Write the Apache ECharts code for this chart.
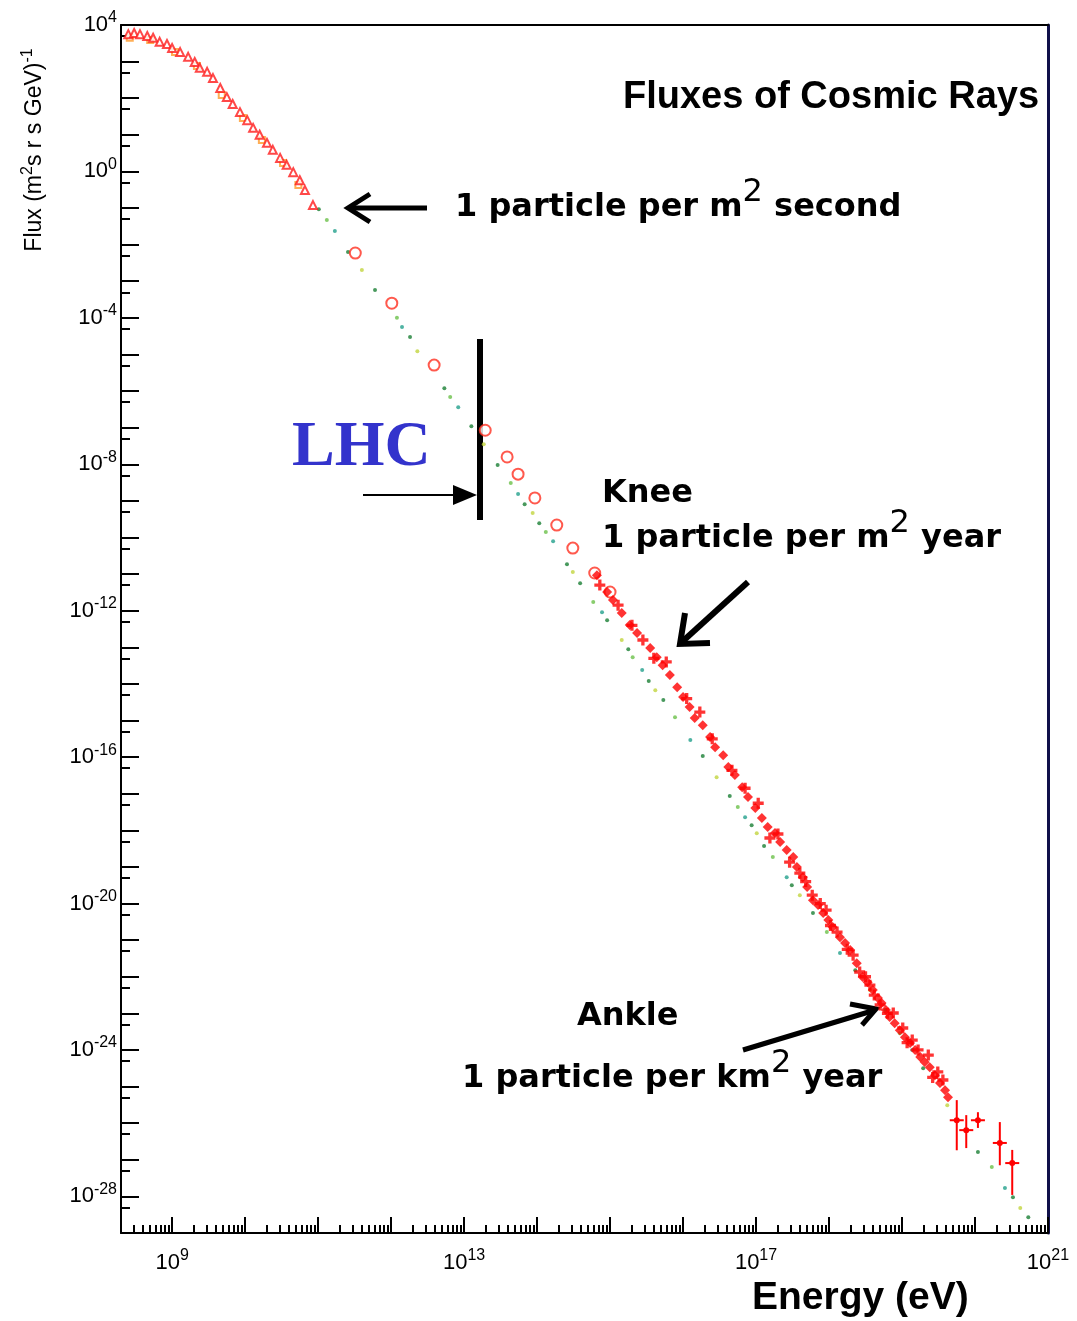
<!DOCTYPE html>
<html>
<head>
<meta charset="utf-8">
<title>Fluxes of Cosmic Rays</title>
<script src="https://cdn.jsdelivr.net/npm/echarts@6/dist/echarts.min.js"></script>
<style>
html, body { margin: 0; padding: 0; background: #fff; }
#main { width: 1077px; height: 1321px; }
</style>
</head>
<body>
<div id="main"></div>
<script type="text/javascript">
// axis ranges and labelled decades (log10 units)
var xRange = [8.3, 21];
var yRange = [-29, 4];
var xLabelExp = [9, 13, 17, 21];
var yLabelExp = [4, 0, -4, -8, -12, -16, -20, -24, -28];

// all points: [log10(E / eV), log10(flux)]
var lowTriangles = [[8.40,3.75],[8.48,3.78],[8.56,3.75],[8.66,3.70],[8.74,3.65],[8.83,3.54],[8.93,3.48],[9.00,3.37],
    [9.11,3.26],[9.22,3.13],[9.31,2.99],[9.38,2.83],[9.48,2.72],[9.56,2.55],[9.66,2.28],[9.75,2.03],[9.83,1.84],
    [9.93,1.62],[10.03,1.40],[10.11,1.19],[10.20,1.00],[10.30,0.78],[10.38,0.59],[10.48,0.37],[10.57,0.18],
    [10.66,-0.02],[10.75,-0.24],[10.82,-0.51],[10.93,-0.92]];
var lowSquares = [[8.42,3.65],[8.70,3.59],[9.04,3.26],[9.34,2.88],[9.68,2.09],[9.97,1.46],[10.23,0.86],[10.52,0.23],[10.73,-0.37]];
var directCircles = [[11.51,-2.23],[12.01,-3.60],[12.59,-5.29],[13.29,-7.07],[13.59,-7.80],[13.74,-8.27],[13.97,-8.92],
    [14.27,-9.66],[14.49,-10.29],[14.79,-10.97],[15.00,-11.49]];
var airShower = [[14.82,-11.03],[14.96,-11.49],[15.04,-11.71],[15.16,-12.06],[15.27,-12.39],[15.37,-12.61],[15.55,-13.02],
    [15.64,-13.27],[15.72,-13.49],[15.82,-13.76],[15.92,-14.09],[16.00,-14.36],[16.09,-14.63],[16.16,-14.93],[16.27,-15.13],
    [16.37,-15.45],[16.44,-15.73],[16.55,-15.95],[16.62,-16.27],[16.71,-16.49],[16.81,-16.82],[16.89,-17.09],[16.99,-17.39],
    [17.08,-17.66],[17.16,-17.91],[17.26,-18.07],[17.33,-18.32],[17.42,-18.54],[17.51,-18.73],[17.56,-19.00],[17.64,-19.28],
    [17.70,-19.55],[17.78,-19.91],[17.85,-20.04],[17.92,-20.26],[17.99,-20.45],[18.05,-20.64],[18.15,-20.92],[18.22,-21.08],
    [18.29,-21.27],[18.38,-21.63],[18.46,-22.01],[18.53,-22.15],[18.60,-22.36],[18.67,-22.58],[18.72,-22.72],[18.78,-22.91],
    [18.83,-23.10],[18.90,-23.27],[18.97,-23.46],[19.04,-23.65],[19.11,-23.81],[19.18,-24.00],[19.25,-24.19],[19.31,-24.33],
    [19.38,-24.47],[19.45,-24.69],[19.52,-24.90],[19.59,-25.10],[19.63,-25.29]];
var airScatter = [[14.86,-11.30],[15.11,-11.85],[15.45,-12.80],[15.77,-13.40],[16.23,-14.77],[16.67,-16.36],[17.03,-17.26],
    [17.19,-18.21],[17.46,-18.87],[17.60,-19.17],[17.77,-19.77],[17.96,-20.18],[18.11,-20.78],[18.33,-21.41],[18.42,-21.87],
    [18.56,-22.23],[18.70,-22.77],[18.88,-22.99],[19.01,-23.40],[19.14,-23.73],[19.36,-24.14],[19.49,-24.60],[19.56,-24.82],
    [15.30,-12.40],[15.60,-13.30],[16.05,-14.40],[16.40,-15.50],[16.85,-16.85],[17.30,-18.10],[17.68,-19.40],[17.88,-20.00],
    [18.02,-20.60],[18.25,-21.25],[18.50,-22.00],[18.62,-22.50],[18.80,-23.00],[19.07,-23.80],[19.22,-24.00],[19.42,-24.75]];
// [logE, logF, logF high, logF low]
var errorBars = [[19.75,-25.92,-25.37,-26.74],[19.88,-26.19,-25.78,-26.68],[20.04,-25.92,-25.70,-26.13],
    [20.34,-26.54,-25.97,-27.15],[20.51,-27.09,-26.73,-27.96]];
var fitLine = [[11.01,-1.03],[11.12,-1.33],[11.23,-1.63],[11.41,-2.20],[11.60,-2.69],[11.78,-3.24],[12.08,-4.00],[12.15,-4.25],
    [12.26,-4.52],[12.36,-4.91],[12.73,-5.92],[12.81,-6.16],[12.92,-6.44],[13.10,-6.96],[13.27,-7.45],[13.46,-8.02],
    [13.64,-8.51],[13.74,-8.81],[13.83,-9.09],[13.94,-9.33],[14.03,-9.61],[14.12,-9.85],[14.22,-10.10],[14.41,-10.73],
    [14.49,-10.94],[14.59,-11.25],[14.77,-11.76],[14.89,-12.04],[14.96,-12.26],[15.16,-12.80],[15.25,-13.05],[15.31,-13.27],
    [15.44,-13.62],[15.53,-13.92],[15.62,-14.17],[15.73,-14.44],[15.89,-14.91],[16.10,-15.53],[16.27,-15.97],[16.46,-16.55],
    [16.64,-17.06],[16.75,-17.36],[16.85,-17.64],[16.94,-17.86],[17.01,-18.08],[17.11,-18.43],[17.23,-18.73],[17.42,-19.28],
    [17.49,-19.50],[17.60,-19.77],[17.78,-20.26],[17.97,-20.78],[18.15,-21.35],[18.36,-21.82],[18.56,-22.36],[18.77,-22.91],
    [18.97,-23.54],[19.14,-24.00],[19.29,-24.50],[19.62,-25.51],[20.04,-26.79],[20.23,-27.20],[20.41,-27.77],[20.52,-28.02],
    [20.62,-28.32],[20.73,-28.57]];

var greens = ['#1a7f34', '#6cc04a', '#23a08c', '#1a7f34', '#c2d43e'];

function p10(v) { return Math.pow(10, v); }
function toLin(arr) {
    return arr.map(function (p) { return p.map(p10); });
}

// ticks: decades + minor positions
var xMajor = [], xMinor = [], yMajor = [], yMinor = [];
for (var d = 8; d <= 21; d++) {
    if (d >= xRange[0]) xMajor.push(p10(d));
    for (var m = 2; m <= 9; m++) {
        var lv = d + Math.log(m) / Math.LN10;
        if (lv > xRange[0] && lv < xRange[1]) xMinor.push(m * p10(d));
    }
}
for (var e = yRange[0]; e <= yRange[1]; e++) {
    yMajor.push(p10(e));
    if (e < yRange[1]) yMinor.push(5 * p10(e));
}

function expLabel(v) {
    var n = Math.round(Math.log(v) / Math.LN10);
    return '{b|10}{e|' + n + '}';
}
var labelRich = {
    b: { fontSize: 22, lineHeight: 30, verticalAlign: 'middle', fontFamily: 'Liberation Sans', color: '#000' },
    e: { fontSize: 16, lineHeight: 16, verticalAlign: 'top', fontFamily: 'Liberation Sans', color: '#000' }
};

// tiny pad so the end decades survive the float round trip of the log scale
function xAxisBase(extra) {
    var a = {
        type: 'log', gridIndex: 0, min: p10(xRange[0]), max: p10(xRange[1]) * 1.00001,
        splitLine: { show: false }, minorTick: { show: false }
    };
    for (var k in extra) a[k] = extra[k];
    return a;
}
function yAxisBase(extra) {
    var a = {
        type: 'log', gridIndex: 0, min: p10(yRange[0]) * 0.99999, max: p10(yRange[1]) * 1.00001,
        splitLine: { show: false }, minorTick: { show: false }
    };
    for (var k in extra) a[k] = extra[k];
    return a;
}

var annFont = 'bold 32px "DejaVu Sans"';
var supRich = { s: { fontSize: 32, fontWeight: 'normal', fontFamily: 'DejaVu Sans', lineHeight: 12, verticalAlign: 'top', fill: '#000' } };

function annText(x, y, text) {
    return {
        type: 'text', x: x, y: y,
        style: { text: text, font: annFont, fill: '#000', align: 'left', verticalAlign: 'middle', lineHeight: 62, rich: supRich }
    };
}
function seg(x1, y1, x2, y2, w) {
    return { type: 'line', shape: { x1: x1, y1: y1, x2: x2, y2: y2 }, style: { stroke: '#000', lineWidth: w, lineCap: 'butt' } };
}
function head(pts, w) {
    return { type: 'polyline', shape: { points: pts }, style: { stroke: '#000', lineWidth: w, fill: null, lineJoin: 'miter' } };
}

var myChart = echarts.init(document.getElementById('main'));

var option = {
    backgroundColor: '#fff',
    animation: false,
    grid: { left: 121, right: 29, top: 25, bottom: 88, containLabel: false, outerBoundsMode: 'none' },
    xAxis: [
        xAxisBase({
            position: 'bottom',
            axisLine: { onZero: false, lineStyle: { color: '#000', width: 2 } },
            axisTick: { inside: true, length: 16, customValues: xMajor, lineStyle: { color: '#000', width: 2 } },
            axisLabel: { customValues: xLabelExp.map(p10), margin: 15, formatter: expLabel, rich: labelRich }
        }),
        xAxisBase({
            position: 'bottom',
            axisLine: { show: false, onZero: false },
            axisTick: { inside: true, length: 8, customValues: xMinor, lineStyle: { color: '#000', width: 2 } },
            axisLabel: { show: false }
        }),
        xAxisBase({
            position: 'top',
            axisLine: { onZero: false, lineStyle: { color: '#000', width: 2 } },
            axisTick: { show: false },
            axisLabel: { show: false }
        })
    ],
    yAxis: [
        yAxisBase({
            position: 'left',
            axisLine: { onZero: false, lineStyle: { color: '#000', width: 2 } },
            axisTick: { inside: true, length: 18, customValues: yMajor, lineStyle: { color: '#000', width: 2 } },
            axisLabel: { customValues: yLabelExp.map(p10), margin: 4, formatter: expLabel, rich: labelRich }
        }),
        yAxisBase({
            position: 'left',
            axisLine: { show: false, onZero: false },
            axisTick: { inside: true, length: 9, customValues: yMinor, lineStyle: { color: '#000', width: 2 } },
            axisLabel: { show: false }
        }),
        yAxisBase({
            position: 'right',
            axisLine: { onZero: false, lineStyle: { color: '#10104a', width: 3 } },
            axisTick: { show: false },
            axisLabel: { show: false }
        })
    ],
    series: [
        {
            name: 'fit', type: 'scatter', silent: true, symbol: 'circle', symbolSize: 4,
            itemStyle: { color: function (p) { return greens[p.dataIndex % greens.length]; } },
            data: toLin(fitLine)
        },
        {
            name: 'low squares', type: 'scatter', silent: true, symbol: 'emptyRect', symbolSize: 6,
            itemStyle: { color: '#ff9a2a', borderWidth: 2 },
            data: toLin(lowSquares)
        },
        {
            name: 'low triangles', type: 'scatter', silent: true, symbol: 'emptyTriangle', symbolSize: 8,
            itemStyle: { color: '#ff1a1a', borderWidth: 2 },
            data: toLin(lowTriangles)
        },
        {
            name: 'direct', type: 'scatter', silent: true, symbol: 'emptyCircle', symbolSize: 11,
            itemStyle: { color: '#ff3020', borderWidth: 2 },
            data: toLin(directCircles)
        },
        {
            name: 'air shower scatter', type: 'scatter', silent: true,
            symbol: 'path://M3.5,0H6.5V3.5H10V6.5H6.5V10H3.5V6.5H0V3.5H3.5Z', symbolSize: 11,
            itemStyle: { color: '#ff0000' },
            data: toLin(airScatter)
        },
        {
            name: 'air shower', type: 'scatter', silent: true, symbol: 'diamond', symbolSize: 10,
            itemStyle: { color: '#ff0000' },
            data: toLin(airShower)
        },
        {
            name: 'error bars', type: 'custom', silent: true,
            renderItem: function (params, api) {
                var c = api.coord([api.value(0), api.value(1)]);
                var hi = api.coord([api.value(0), api.value(2)]);
                var lo = api.coord([api.value(0), api.value(3)]);
                return {
                    type: 'group',
                    children: [
                        { type: 'line', shape: { x1: hi[0], y1: hi[1], x2: lo[0], y2: lo[1] }, style: { stroke: '#ff0000', lineWidth: 2 } },
                        { type: 'line', shape: { x1: c[0] - 7, y1: c[1], x2: c[0] + 7, y2: c[1] }, style: { stroke: '#ff0000', lineWidth: 2 } },
                        { type: 'circle', shape: { cx: c[0], cy: c[1], r: 3 }, style: { fill: '#ff0000' } }
                    ]
                };
            },
            data: toLin(errorBars)
        }
    ],
    graphic: [
        {
            type: 'text', x: 623, y: 98,
            style: { text: 'Fluxes of Cosmic Rays', font: 'bold 38px "Liberation Sans"', fill: '#000', align: 'left', verticalAlign: 'middle' }
        },
        {
            type: 'text', x: 35, y: 150, rotation: Math.PI / 2,
            style: {
                text: 'Flux (m{s|2}s r s GeV){s|-1}', font: '23px "Liberation Sans"', fill: '#000',
                align: 'center', verticalAlign: 'middle', lineHeight: 30,
                rich: { s: { fontSize: 16, fontFamily: 'Liberation Sans', lineHeight: 14, verticalAlign: 'top', fill: '#000' } }
            }
        },
        {
            type: 'text', x: 752, y: 1298,
            style: { text: 'Energy (eV)', font: 'bold 39px "Liberation Sans"', fill: '#000', align: 'left', verticalAlign: 'middle' }
        },
        annText(455, 208, '1 particle per m{s|2} second'),
        annText(602, 494, 'Knee'),
        annText(602, 539, '1 particle per m{s|2} year'),
        annText(577, 1017, 'Ankle'),
        annText(462, 1079, '1 particle per km{s|2} year'),
        {
            type: 'text', x: 292, y: 448,
            style: { text: 'LHC', font: 'bold 64px "Liberation Serif"', fill: '#3333cc', align: 'left', verticalAlign: 'middle' }
        },
        // arrows and the LHC marker
        seg(427, 208, 350, 208, 5),
        head([[370, 194], [348, 208], [370, 222]], 5),
        seg(480, 339, 480, 520, 6),
        seg(363, 495, 456, 495, 2),
        { type: 'polygon', shape: { points: [[453, 485], [477, 495], [453, 505]] }, style: { fill: '#000' } },
        seg(748, 582, 683, 641, 6),
        head([[685, 613], [680, 644], [710, 643]], 6),
        seg(743, 1050, 872, 1011, 5),
        head([[850, 1004], [876, 1009], [862, 1025]], 5)
    ]
};

myChart.setOption(option);
</script>
</body>
</html>
